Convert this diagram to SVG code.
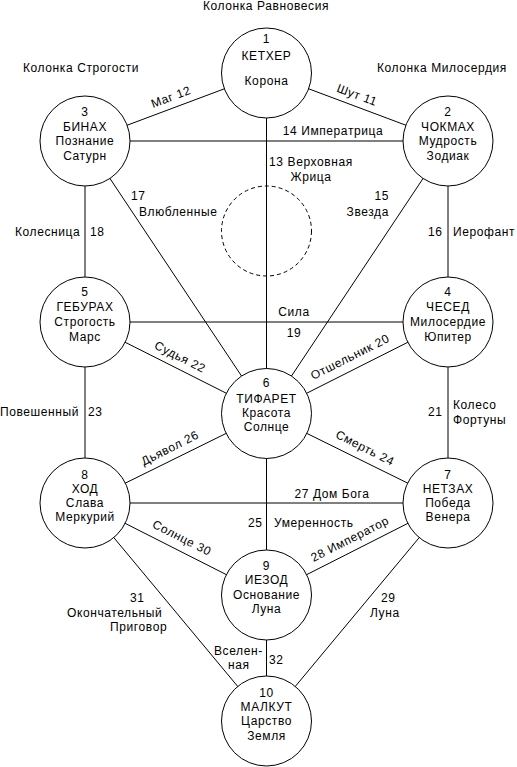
<svg xmlns="http://www.w3.org/2000/svg" width="517" height="767" viewBox="0 0 517 767">
<style>
text{font-family:"Liberation Sans",Arial,sans-serif;font-size:12px;fill:#000;letter-spacing:0.6px}
.c{text-anchor:middle}
.r{text-anchor:end}
.node circle{fill:#fff;stroke:#000;stroke-width:1}
#connectors line{stroke:#000;stroke-width:1}
#daath circle{fill:none;stroke:#000;stroke-width:1;stroke-dasharray:4 3}
</style>
<rect width="517" height="767" fill="#fff"/>
<text class="c" x="266" y="10">Колонка Равновесия</text>
<text x="23" y="72">Колонка Строгости</text>
<text x="377" y="72">Колонка Милосердия</text>
<g id="connectors">
<line x1="266.5" y1="73" x2="85" y2="141"/>
<line x1="266.5" y1="73" x2="448" y2="141"/>
<line x1="266.5" y1="73" x2="266.5" y2="721"/>
<line x1="85" y1="141" x2="448" y2="141"/>
<line x1="85" y1="322" x2="448" y2="322"/>
<line x1="85" y1="503" x2="448" y2="503"/>
<line x1="85" y1="141" x2="85" y2="503"/>
<line x1="448" y1="141" x2="448" y2="503"/>
<line x1="85" y1="141" x2="266.5" y2="413.5"/>
<line x1="448" y1="141" x2="266.5" y2="413.5"/>
<line x1="85" y1="322" x2="266.5" y2="413.5"/>
<line x1="448" y1="322" x2="266.5" y2="413.5"/>
<line x1="85" y1="503" x2="266.5" y2="413.5"/>
<line x1="448" y1="503" x2="266.5" y2="413.5"/>
<line x1="85" y1="503" x2="266.5" y2="595"/>
<line x1="448" y1="503" x2="266.5" y2="595"/>
<line x1="85" y1="503" x2="266.5" y2="721"/>
<line x1="448" y1="503" x2="266.5" y2="721"/>
</g>
<g id="connector-labels">
<text class="c" transform="translate(171,97) rotate(-20.5)" y="4">Маг 12</text>
<text class="c" transform="translate(357,95) rotate(20.5)" y="4">Шут 11</text>
<text class="c" x="333" y="135">14 Императрица</text>
<text class="c" x="311" y="166">13 Верховная</text>
<text class="c" x="311" y="181">Жрица</text>
<text x="131" y="200">17</text>
<text x="139" y="216">Влюбленные</text>
<text class="r" x="389" y="200">15</text>
<text class="r" x="389" y="216">Звезда</text>
<text x="15" y="236">Колесница</text>
<text x="90" y="236">18</text>
<text x="428" y="236">16</text>
<text x="453" y="236">Иерофант</text>
<text class="c" x="294" y="316">Сила</text>
<text class="c" x="294" y="337">19</text>
<text class="c" transform="translate(180,357) rotate(26.8)" y="4">Судья 22</text>
<text class="c" transform="translate(350,357) rotate(-26.8)" y="4">Отшельник 20</text>
<text x="0" y="416">Повешенный</text>
<text x="88" y="416">23</text>
<text x="428" y="416">21</text>
<text x="453" y="409">Колесо</text>
<text x="453" y="424">Фортуны</text>
<text class="c" transform="translate(170,448) rotate(-26.8)" y="4">Дьявол 26</text>
<text class="c" transform="translate(365,448) rotate(26.8)" y="4">Смерть 24</text>
<text class="c" x="332" y="498">27 Дом Бога</text>
<text x="248" y="527">25</text>
<text x="274" y="527">Умеренность</text>
<text class="c" transform="translate(182,538) rotate(26.9)" y="4">Солнце 30</text>
<text class="c" transform="translate(350,539) rotate(-26.9)" y="4">28 Император</text>
<text x="130" y="602">31</text>
<text x="67" y="617">Окончательный</text>
<text x="110" y="631">Приговор</text>
<text x="381" y="602">29</text>
<text x="370" y="617">Луна</text>
<text x="214" y="655">Вселен-</text>
<text x="228" y="669">ная</text>
<text x="269" y="664">32</text>
</g>
<g id="daath"><circle cx="266.5" cy="231" r="45"/></g>
<g id="kether" class="node"><circle cx="266.5" cy="73" r="45"/>
<text class="c" x="266.5" y="43">1</text><text class="c" x="266.5" y="60">КЕТХЕР</text><text class="c" x="266.5" y="85">Корона</text></g>
<g id="binah" class="node"><circle cx="85" cy="141" r="45"/>
<text class="c" x="85" y="116">3</text><text class="c" x="85" y="130.5">БИНАХ</text><text class="c" x="85" y="145">Познание</text><text class="c" x="85" y="159.5">Сатурн</text></g>
<g id="chokmah" class="node"><circle cx="448" cy="141" r="45"/>
<text class="c" x="448" y="116">2</text><text class="c" x="448" y="130.5">ЧОКМАХ</text><text class="c" x="448" y="145">Мудрость</text><text class="c" x="448" y="159.5">Зодиак</text></g>
<g id="geburah" class="node"><circle cx="85" cy="322" r="45"/>
<text class="c" x="85" y="296">5</text><text class="c" x="85" y="311">ГЕБУРАХ</text><text class="c" x="85" y="326">Строгость</text><text class="c" x="85" y="340.5">Марс</text></g>
<g id="chesed" class="node"><circle cx="448" cy="322" r="45"/>
<text class="c" x="448" y="296">4</text><text class="c" x="448" y="311">ЧЕСЕД</text><text class="c" x="448" y="326">Милосердие</text><text class="c" x="448" y="340.5">Юпитер</text></g>
<g id="tiphareth" class="node"><circle cx="266.5" cy="413.5" r="45"/>
<text class="c" x="266.5" y="387">6</text><text class="c" x="266.5" y="402.5">ТИФАРЕТ</text><text class="c" x="266.5" y="417">Красота</text><text class="c" x="266.5" y="431">Солнце</text></g>
<g id="hod" class="node"><circle cx="85" cy="503" r="45"/>
<text class="c" x="85" y="478.5">8</text><text class="c" x="85" y="493">ХОД</text><text class="c" x="85" y="507">Слава</text><text class="c" x="85" y="521">Меркурий</text></g>
<g id="netzach" class="node"><circle cx="448" cy="503" r="45"/>
<text class="c" x="448" y="478.5">7</text><text class="c" x="448" y="493">НЕТЗАХ</text><text class="c" x="448" y="507">Победа</text><text class="c" x="448" y="521">Венера</text></g>
<g id="yesod" class="node"><circle cx="266.5" cy="595" r="45"/>
<text class="c" x="266.5" y="569.5">9</text><text class="c" x="266.5" y="584">ИЕЗОД</text><text class="c" x="266.5" y="598.5">Основание</text><text class="c" x="266.5" y="612.5">Луна</text></g>
<g id="malkuth" class="node"><circle cx="266.5" cy="721" r="45"/>
<text class="c" x="266.5" y="696.5">10</text><text class="c" x="266.5" y="711">МАЛКУТ</text><text class="c" x="266.5" y="725">Царство</text><text class="c" x="266.5" y="739.5">Земля</text></g>
</svg>
